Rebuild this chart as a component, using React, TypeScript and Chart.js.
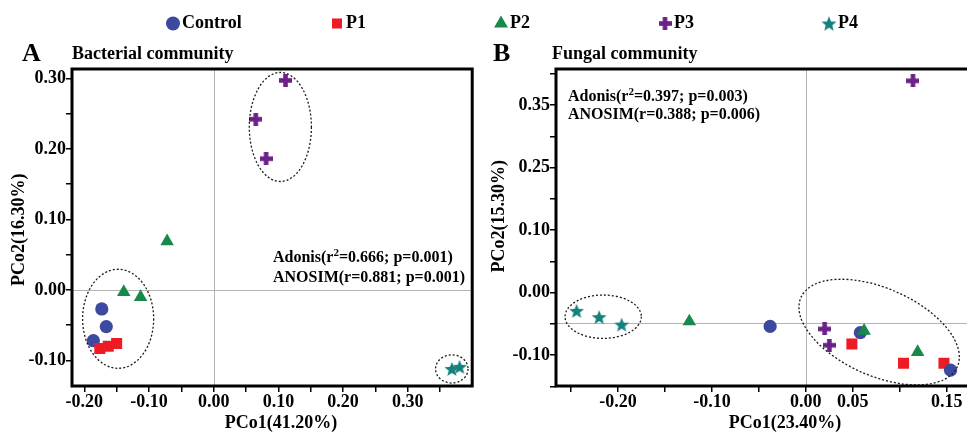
import React, { useEffect, useRef } from "react";
import { Chart, registerables } from "chart.js";

Chart.register(...registerables);

// ---------- data ----------
const SERIES = ["Control", "P1", "P2", "P3", "P4"];
const COLORS = ["#3b4a9e", "#ee1b24", "#17894b", "#6b2187", "#15807e"];

// Panel A – bacterial community
const A_CONTROL = [{ x: -0.173, y: -0.027 }, { x: -0.166, y: -0.052 }, { x: -0.186, y: -0.072 }];
const A_P1 = [{ x: -0.176, y: -0.083 }, { x: -0.163, y: -0.08 }, { x: -0.15, y: -0.076 }];
const A_P2 = [{ x: -0.072, y: 0.069 }, { x: -0.139, y: -0.003 }, { x: -0.113, y: -0.01 }];
const A_P3 = [{ x: 0.111, y: 0.297 }, { x: 0.065, y: 0.242 }, { x: 0.081, y: 0.186 }];
const A_P4 = [{ x: 0.368, y: -0.112 }, { x: 0.38, y: -0.109 }];

// Panel B – fungal community
const B_CONTROL = [{ x: -0.038, y: -0.054 }, { x: 0.058, y: -0.064 }, { x: 0.154, y: -0.124 }];
const B_P1 = [{ x: 0.049, y: -0.082 }, { x: 0.104, y: -0.113 }, { x: 0.147, y: -0.113 }];
const B_P2 = [{ x: -0.124, y: -0.046 }, { x: 0.062, y: -0.061 }, { x: 0.119, y: -0.095 }];
const B_P3 = [{ x: 0.02, y: -0.058 }, { x: 0.025, y: -0.084 }, { x: 0.114, y: 0.339 }];
const B_P4 = [{ x: -0.244, y: -0.029 }, { x: -0.22, y: -0.039 }, { x: -0.196, y: -0.051 }];

// axis ticks / labels
const A_X_TICKS = [-0.2, -0.15, -0.1, -0.05, 0, 0.05, 0.1, 0.15, 0.2, 0.25, 0.3, 0.35];
const A_X_LABELS = ["-0.20", "", "-0.10", "", "0.00", "", "0.10", "", "0.20", "", "0.30", ""];
const A_Y_TICKS = [-0.1, -0.05, 0, 0.05, 0.1, 0.15, 0.2, 0.25, 0.3];
const A_Y_LABELS = ["-0.10", "", "0.00", "", "0.10", "", "0.20", "", "0.30"];
const B_X_TICKS = [-0.25, -0.2, -0.15, -0.1, -0.05, 0, 0.05, 0.1, 0.15];
const B_X_LABELS = ["", "-0.20", "", "-0.10", "", "0.00", "0.05", "", "0.15"];
const B_Y_TICKS = [-0.15, -0.1, -0.05, 0, 0.05, 0.1, 0.15, 0.2, 0.25, 0.3, 0.35];
const B_Y_LABELS = ["", "-0.10", "", "0.00", "", "0.10", "", "0.25", "", "0.35", ""];

const A_RANGE = { xmin: -0.219, xmax: 0.3995, ymin: -0.1362, ymax: 0.3132 };
const B_RANGE = { xmin: -0.2659, xmax: 0.2026, ymin: -0.1493, ymax: 0.358 };

// confidence ellipses (centre, radii in data units, rotation in degrees)
const A_ELLIPSES = [
  { cx: 0.103, cy: 0.231, rx: 0.048, ry: 0.0773, rot: 0 },
  { cx: -0.1477, cy: -0.0409, rx: 0.0549, ry: 0.0702, rot: 0 },
  { cx: 0.368, cy: -0.112, rx: 0.0251, ry: 0.02, rot: 0 },
];
const B_ELLIPSES = [
  { cx: -0.2157, cy: -0.0384, rx: 0.0406, ry: 0.0347, rot: 0 },
  { cx: 0.078, cy: -0.063, rx: 0.091, ry: 0.07, rot: 23.8 },
];

const A_STATS = ["Adonis(r^2=0.666; p=0.001)", "ANOSIM(r=0.881; p=0.001)"];
const B_STATS = ["Adonis(r^2=0.397; p=0.003)", "ANOSIM(r=0.388; p=0.006)"];

const FONT_FAMILY = "'Liberation Serif', 'Times New Roman', Times, serif";
Chart.defaults.font.family = FONT_FAMILY;

// ---------- point styles ----------
function makePlus(color: string) {
  const s = 13, t = 4.6;
  const c = document.createElement("canvas");
  c.width = s; c.height = s;
  const g = c.getContext("2d")!;
  g.fillStyle = color;
  g.fillRect(0, (s - t) / 2, s, t);
  g.fillRect((s - t) / 2, 0, t, s);
  return c;
}
function makeStar(color: string, R: number) {
  const r = R * 0.43, s = 18;
  const c = document.createElement("canvas");
  c.width = s; c.height = s;
  const g = c.getContext("2d")!;
  g.fillStyle = color;
  g.beginPath();
  for (let i = 0; i < 10; i++) {
    const rad = i % 2 === 0 ? R : r;
    const a = -Math.PI / 2 + (i * Math.PI) / 5;
    const px = s / 2 + rad * Math.cos(a);
    const py = s / 2 + 0.7 + rad * Math.sin(a);
    if (i === 0) g.moveTo(px, py); else g.lineTo(px, py);
  }
  g.closePath();
  g.fill();
  return c;
}

function pointStyles(starR: number): any[] {
  return ["circle", "rect", "triangle", makePlus(COLORS[3]), makeStar(COLORS[4], starR)];
}
const RADII = [6.6, 7.8, 7.8, 7, 7];
const LEGEND_RADII = [7, 7.1, 8, 7, 7];

// ---------- plugins ----------
const refLines = {
  id: "refLines",
  beforeDatasetsDraw(chart: any, _a: any, opts: any) {
    const { ctx, chartArea: a, scales } = chart;
    ctx.save();
    ctx.beginPath();
    ctx.rect(a.left, a.top, a.right - a.left, a.bottom - a.top);
    ctx.clip();
    ctx.strokeStyle = "#b4b4b4";
    ctx.lineWidth = 1;
    const px = Math.round(scales.x.getPixelForValue(opts.x)) + 0.5;
    const py = Math.round(scales.y.getPixelForValue(opts.y)) + 0.5;
    ctx.beginPath();
    ctx.moveTo(px, a.top);
    ctx.lineTo(px, a.bottom);
    ctx.moveTo(a.left, py);
    ctx.lineTo(a.right, py);
    ctx.stroke();
    ctx.restore();
  },
};

const ellipses = {
  id: "ellipses",
  afterDatasetsDraw(chart: any, _a: any, opts: any) {
    const { ctx, chartArea: a, scales } = chart;
    ctx.save();
    ctx.beginPath();
    ctx.rect(a.left, a.top, a.right - a.left, a.bottom - a.top);
    ctx.clip();
    ctx.strokeStyle = "#1a1a1a";
    ctx.lineWidth = 1.3;
    ctx.setLineDash([2, 2]);
    (opts.items || []).forEach((e: any) => {
      const px = scales.x.getPixelForValue(e.cx);
      const py = scales.y.getPixelForValue(e.cy);
      const rx = Math.abs(scales.x.getPixelForValue(e.cx + e.rx) - px);
      const ry = Math.abs(scales.y.getPixelForValue(e.cy + e.ry) - py);
      ctx.beginPath();
      ctx.ellipse(px, py, rx, ry, (e.rot * Math.PI) / 180, 0, Math.PI * 2);
      ctx.stroke();
    });
    ctx.restore();
  },
};

const frame = {
  id: "frame",
  afterDraw(chart: any) {
    const { ctx, chartArea: a } = chart;
    ctx.save();
    ctx.strokeStyle = "#000";
    ctx.lineWidth = 3;
    ctx.strokeRect(a.left, a.top, a.right - a.left, a.bottom - a.top);
    ctx.restore();
  },
};

const stats = {
  id: "stats",
  afterDraw(chart: any, _a: any, opts: any) {
    const { ctx, chartArea: a } = chart;
    ctx.save();
    ctx.fillStyle = "#000";
    ctx.textBaseline = "middle";
    ctx.textAlign = "left";
    const main = `bold 16px ${FONT_FAMILY}`;
    const sup = `bold 11px ${FONT_FAMILY}`;
    (opts.lines || []).forEach((line: string, i: number) => {
      let x = a.left + opts.dx;
      const y = a.top + opts.dy + i * opts.gap;
      const segs = line.split("^");
      segs.forEach((seg, k) => {
        let txt = seg;
        if (k > 0) {
          ctx.font = sup;
          const s = seg.charAt(0);
          ctx.fillText(s, x, y - 5);
          x += ctx.measureText(s).width;
          txt = seg.slice(1);
        }
        ctx.font = main;
        ctx.fillText(txt, x, y);
        x += ctx.measureText(txt).width;
      });
    });
    ctx.restore();
  },
};

const legendLabels = {
  id: "legendLabels",
  afterDatasetsDraw(chart: any) {
    const ctx = chart.ctx;
    ctx.save();
    ctx.font = `bold 18px ${FONT_FAMILY}`;
    ctx.fillStyle = "#000";
    ctx.textBaseline = "middle";
    ctx.textAlign = "left";
    chart.data.datasets.forEach((ds: any, i: number) => {
      const el = chart.getDatasetMeta(i).data[0];
      if (el) ctx.fillText(ds.label, el.x + 9, el.y);
    });
    ctx.restore();
  },
};

// ---------- configs ----------
function panelConfig(p: any) {
  const styles = pointStyles(7.8);
  const tickFont = { size: 18, weight: "bold" as const };
  return {
    type: "scatter" as const,
    data: {
      datasets: p.groups.map((data: any, i: number) => ({
        label: SERIES[i],
        data,
        order: p.order[i],
        pointStyle: styles[i],
        pointRadius: RADII[i],
        pointHoverRadius: RADII[i],
        backgroundColor: COLORS[i],
        borderColor: COLORS[i],
        borderWidth: 0,
      })),
    },
    options: {
      responsive: false,
      animation: false as const,
      events: [],
      layout: { padding: { left: 0, right: p.padRight, top: 31, bottom: 0 } },
      plugins: {
        legend: { display: false },
        tooltip: { enabled: false },
        refLines: p.ref,
        ellipses: { items: p.ellipses },
        stats: p.stats,
      },
      scales: {
        x: {
          type: "linear" as const,
          min: p.range.xmin,
          max: p.range.xmax,
          afterFit: (s: any) => { s.height = 48; },
          afterBuildTicks: (s: any) => { s.ticks = p.xTicks.map((v: number) => ({ value: v })); },
          grid: { drawOnChartArea: false, drawTicks: true, tickLength: 6, color: "#000", lineWidth: 1.5 },
          border: { display: false },
          ticks: {
            autoSkip: false, maxRotation: 0, minRotation: 0, padding: 0, color: "#000", font: tickFont,
            callback: (_v: any, idx: number) => p.xLabels[idx],
          },
          title: { display: true, text: p.xTitle, color: "#000", font: { size: 18, weight: "bold" as const }, padding: { top: 0, bottom: 0 } },
        },
        y: {
          type: "linear" as const,
          min: p.range.ymin,
          max: p.range.ymax,
          afterFit: (s: any) => { s.width = p.yWidth; },
          afterBuildTicks: (s: any) => { s.ticks = p.yTicks.map((v: number) => ({ value: v })); },
          grid: { drawOnChartArea: false, drawTicks: true, tickLength: 6, color: "#000", lineWidth: 1.5 },
          border: { display: false },
          ticks: {
            autoSkip: false, padding: 0, color: "#000", font: tickFont,
            callback: (_v: any, idx: number) => p.yLabels[idx],
          },
          title: { display: true, text: p.yTitle, color: "#000", font: { size: 18, weight: "bold" as const }, padding: { top: 9, bottom: 0 } },
        },
      },
    },
    plugins: [refLines, ellipses, frame, stats],
  };
}

function legendConfig() {
  const styles = pointStyles(8);
  return {
    type: "scatter" as const,
    data: {
      datasets: SERIES.map((s, i) => ({
        label: s,
        data: [{ x: s, y: 0 }],
        pointStyle: styles[i],
        pointRadius: LEGEND_RADII[i],
        pointHoverRadius: LEGEND_RADII[i],
        backgroundColor: COLORS[i],
        borderColor: COLORS[i],
        borderWidth: 0,
        clip: false as const,
      })),
    },
    options: {
      responsive: false,
      animation: false as const,
      events: [],
      layout: { padding: { left: 173, right: 138, top: 17, bottom: 0 } },
      plugins: { legend: { display: false }, tooltip: { enabled: false } },
      scales: {
        x: { type: "category" as const, labels: SERIES, offset: false, display: false },
        y: { type: "linear" as const, min: -1, max: 1, display: false },
      },
    },
    plugins: [legendLabels],
  };
}

// ---------- component ----------
export default function App() {
  const legRef = useRef<HTMLCanvasElement>(null);
  const aRef = useRef<HTMLCanvasElement>(null);
  const bRef = useRef<HTMLCanvasElement>(null);

  useEffect(() => {
    const charts: Chart[] = [];
    charts.push(new Chart(legRef.current!, legendConfig() as any));
    charts.push(
      new Chart(
        aRef.current!,
        panelConfig({
          groups: [A_CONTROL, A_P1, A_P2, A_P3, A_P4],
          order: [3, 2, 1, 1, 1],
          range: A_RANGE,
          xTicks: A_X_TICKS, xLabels: A_X_LABELS,
          yTicks: A_Y_TICKS, yLabels: A_Y_LABELS,
          xTitle: "    PCo1(41.20%)",
          yTitle: "PCo2(16.30%) ",
          yWidth: 72,
          padRight: 6,
          ref: { x: 0, y: 0 },
          ellipses: A_ELLIPSES,
          stats: { lines: A_STATS, dx: 201, dy: 189, gap: 20 },
        }) as any
      )
    );
    charts.push(
      new Chart(
        bRef.current!,
        panelConfig({
          groups: [B_CONTROL, B_P1, B_P2, B_P3, B_P4],
          order: [2, 3, 1, 1, 1],
          range: B_RANGE,
          xTicks: B_X_TICKS, xLabels: B_X_LABELS,
          yTicks: B_Y_TICKS, yLabels: B_Y_LABELS,
          xTitle: "    PCo1(23.40%)",
          yTitle: "     PCo2(15.30%)",
          yWidth: 76,
          padRight: 6,
          ref: { x: 0, y: -0.048 },
          ellipses: B_ELLIPSES,
          stats: { lines: B_STATS, dx: 12, dy: 28, gap: 18 },
        }) as any
      )
    );
    return () => charts.forEach((c) => c.destroy());
  }, []);

  const txt = (left: number, top: number, size: number, s: string) => (
    <div
      style={{
        position: "absolute", left, top, fontSize: size, lineHeight: `${size}px`,
        fontFamily: FONT_FAMILY, fontWeight: "bold", color: "#000", whiteSpace: "nowrap",
      }}
    >
      {s}
    </div>
  );

  return (
    <div style={{ position: "absolute", left: 0, top: 0, width: 967, height: 434, overflow: "hidden", background: "#fff" }}>
      <canvas ref={legRef} width={967} height={38} style={{ position: "absolute", left: 0, top: 0, width: 967, height: 38 }} />
      <canvas ref={aRef} width={480} height={396} style={{ position: "absolute", left: 0, top: 38, width: 480, height: 396 }} />
      <canvas ref={bRef} width={524} height={396} style={{ position: "absolute", left: 480, top: 38, width: 524, height: 396 }} />
      {txt(22, 40, 26, "A")}
      {txt(72, 44, 18, "Bacterial community")}
      {txt(493, 40, 26, "B")}
      {txt(552, 44, 18, "Fungal community")}
    </div>
  );
}
